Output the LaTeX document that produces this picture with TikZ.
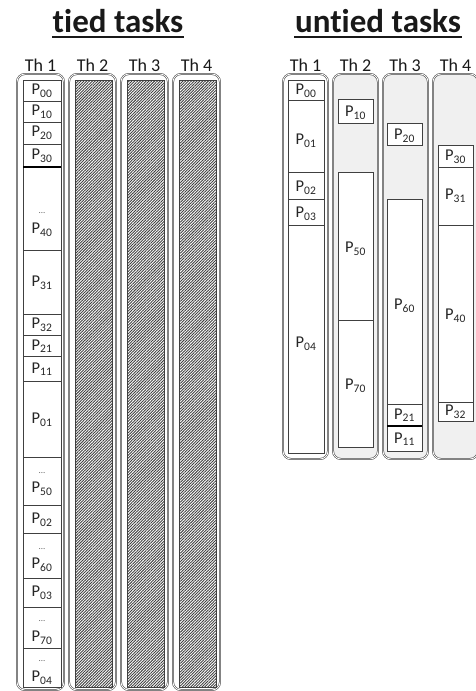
\documentclass[tikz,border=0pt]{standalone}
\usepackage{fontspec}
\setmainfont{Carlito}[Ligatures=NoCommon]
\usetikzlibrary{patterns.meta}
\newcommand\pn[1]{P\textsubscript{#1}}
\begin{document}
\begin{tikzpicture}[x=1pt,y=-1pt,
  outerbox/.style={draw=black!75, line width=0.55pt, double=white, double distance=0.8pt, rounded corners=8pt},
  segbox/.style={draw=black!75, line width=0.8pt, fill=white},
  thickseg/.style={draw=black, line width=1.6pt},
  hatchbox/.style={draw=black!75, line width=0.8pt, fill=white,
     pattern={Lines[angle=45, distance=2pt, line width=0.9pt]}, pattern color=black!75},
  plabel/.style={font=\fontsize{16.5}{18}\selectfont, text=black!85, inner sep=0pt},
  dotlabel/.style={font=\fontsize{9}{10}\selectfont, text=black!60, inner sep=0pt},
  thlabel/.style={font=\fontsize{18}{20}\selectfont, text=black!90, inner sep=0pt},
  titlelabel/.style={font=\fontsize{33}{35}\selectfont\bfseries, text=black!90, inner sep=0pt},
  uline/.style={draw=black!90, line width=2pt}
]
\useasboundingbox (0,0) rectangle (475,691);

% titles
\node[titlelabel, anchor=base] (tiedt) at (118,32) {tied tasks};
\draw[uline] (52,37) -- (184,37);
\node[titlelabel, anchor=base] (untiedt) at (378,32) {untied tasks};
\draw[uline] (294,37) -- (462,37);

% ---------- tied tasks ----------
\foreach \i/\x in {1/17,2/69,3/121,4/173}{
  \draw[outerbox] (\x,74) rectangle (\x+47,690);
  \node[thlabel] (tth\i) at (\x+23.5,65) {Th \i};
}
\foreach \x in {75,127,179}{
  \draw[hatchbox] (\x,80) rectangle (\x+37,687);
}
\foreach \a/\b/\n/\ly in {80/101/00/91, 101/122/10/112, 122/144/20/133, 144/167/30/156,
   167/250/40/230, 250/314/31/283, 314/335/32/325, 335/356/21/346, 356/381/11/369,
   381/457/01/420, 457/505/50/489, 505/533/02/520, 533/578/60/565, 578/607/03/593,
   607/648/70/638, 648/687/04/678}{
  \draw[segbox] (23,\a) rectangle (61,\b);
  \node[plabel] (tp\n) at (42,\ly) {\pn{\n}};
}
\draw[thickseg] (23,167) -- (61,167);
\foreach \n/\dy in {40/213, 50/473, 60/549, 70/621, 04/661}{
  \node[dotlabel] (td\n) at (42,\dy) {...};
}

% ---------- untied tasks ----------
\draw[outerbox, fill=white] (283,74) rectangle (328,459);
\foreach \x in {333,383,433}{
  \draw[outerbox, fill=black!6] (\x,74) rectangle (\x+45,459);
}
\foreach \i/\x in {1/305.5,2/355.5,3/405,4/455.5}{
  \node[thlabel] (uth\i) at (\x,65) {Th \i};
}
% Th 1
\foreach \a/\b/\n/\ly in {80/100/00/91, 100/172/01/141, 172/199/02/188, 199/225/03/214, 225/453/04/344}{
  \draw[segbox] (288,\a) rectangle (324,\b);
  \node[plabel] (up\n) at (306,\ly) {\pn{\n}};
}
% Th 2
\foreach \a/\b/\n/\ly in {99/123/10/113, 172/320/50/249, 320/447/70/386}{
  \draw[segbox] (338,\a) rectangle (373,\b);
  \node[plabel] (up\n) at (355.5,\ly) {\pn{\n}};
}
% Th 3
\foreach \a/\b/\n/\ly in {123/145/20/136, 199/404/60/306, 404/426/21/415, 426/451/11/439}{
  \draw[segbox] (387,\a) rectangle (422,\b);
  \node[plabel] (up\n) at (404.5,\ly) {\pn{\n}};
}
\draw[thickseg] (387,426) -- (422,426);
% Th 4
\foreach \a/\b/\n/\ly in {145/167/30/157, 167/225/31/196, 225/402/40/316, 402/421/32/412}{
  \draw[segbox] (438,\a) rectangle (473,\b);
  \node[plabel] (up\n) at (455.5,\ly) {\pn{\n}};
}
\end{tikzpicture}
\end{document}
